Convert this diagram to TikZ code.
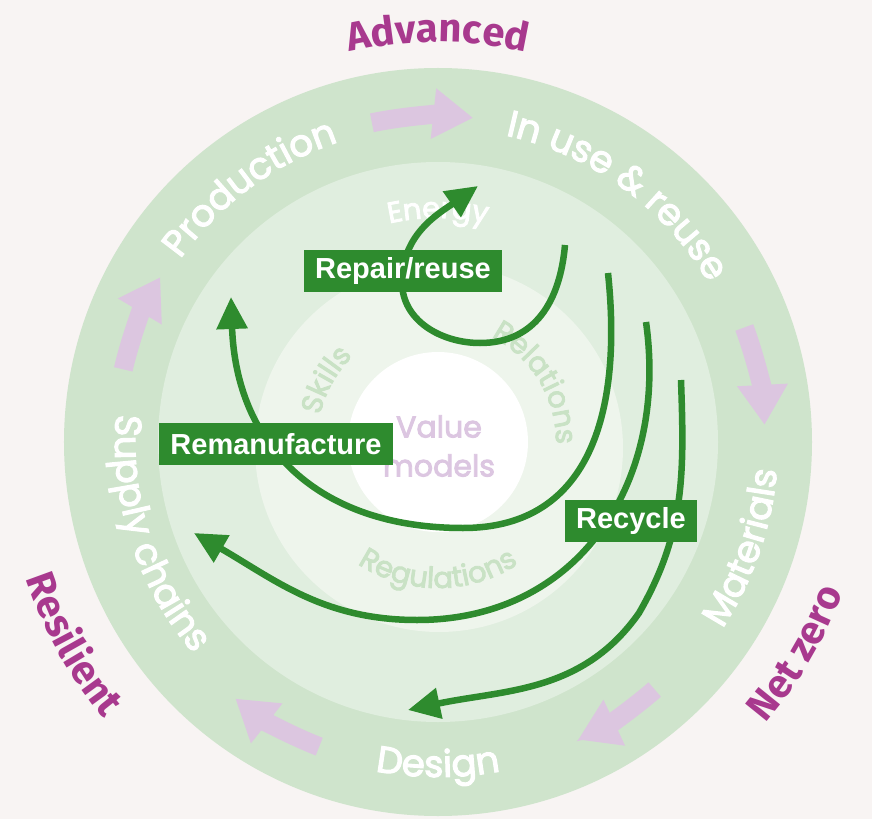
\documentclass[tikz,border=0pt]{standalone}
\usepackage{fontspec}
\setmainfont{Poppins}[FakeBold=3]
\newfontfamily\boxfont{Liberation Sans}
\newfontfamily\tagfont{Fira Sans}
\usetikzlibrary{arrows.meta,positioning,decorations.text}
\definecolor{paper}{HTML}{F8F4F3}
\definecolor{ringa}{HTML}{CFE4CC}
\definecolor{ringb}{HTML}{E0EEDF}
\definecolor{ringc}{HTML}{EEF5EC}
\definecolor{loopgreen}{HTML}{2E8B2E}
\definecolor{flowpink}{HTML}{DCC6E0}
\definecolor{tagpink}{HTML}{A8398E}
\definecolor{softgreen}{HTML}{C9E2C5}
\definecolor{valuepink}{HTML}{DCC6E1}
\newcommand\bandsize{\fontsize{37}{37}\selectfont}
\newcommand\innersize{\fontsize{29}{29}\selectfont}
\newcommand\tagsize{\tagfont\bfseries\fontsize{40}{40}\selectfont}

\begin{document}
\begin{tikzpicture}[x=1pt,y=1pt,
  loopbox/.style={fill=loopgreen,text=white,font=\boxfont\bfseries\fontsize{29}{29}\selectfont,inner xsep=11pt,inner ysep=0pt,minimum height=42pt},
  loop/.style={draw=loopgreen,line width=6.5pt,-{Triangle[length=32pt,width=30pt]}},
  flow/.style={draw=flowpink,line width=19pt,-{Triangle[length=40pt,width=48pt]}},
  bandtext/.style={decorate,decoration={text along path,text align=center,text color=white,text={|\bandsize|#1}}},
  softtext/.style={decorate,decoration={text along path,text align=center,text color=softgreen,text={|\innersize|#1}}},
  energytext/.style={decorate,decoration={text along path,text align=center,text color=white,text={|\innersize|#1}}},
  tagtext/.style={decorate,decoration={text along path,text align=center,text color=tagpink,text={|\tagsize|#1}}}]
\useasboundingbox (-438,-377) rectangle (434,442);
\fill[paper] (-438,-377) rectangle (434,442);
\fill[ringa] (0,0) circle[radius=374];
\fill[ringb] (0,0) circle[radius=280];
\fill[ringc] (1,-6) circle[radius=184];
\fill[white] (0,0) circle[radius=90];

\draw[flow] (101.7:326) arc[start angle=101.7,end angle=83.8,radius=326];
\draw[flow] (20.5:327) arc[start angle=20.5,end angle=3,radius=327];
\draw[flow] (-48.8:329) arc[start angle=-48.8,end angle=-64.8,radius=329];
\draw[flow] (-111.3:327) arc[start angle=-111.3,end angle=-128.3,radius=327];
\draw[flow] (167:323) arc[start angle=167,end angle=149.3,radius=323];

\path[bandtext=Production] (166.5:316) arc[start angle=166.5,end angle=86.5,radius=316];
\path[bandtext={In use {\&} reuse}] (94:314) arc[start angle=94,end angle=14,radius=314];
\path[bandtext=Materials] (-59:340) arc[start angle=-59,end angle=21,radius=340];
\path[bandtext=Design] (-130:335) arc[start angle=-130,end angle=-50,radius=335];
\path[bandtext={Supply chains}] (158:323) arc[start angle=158,end angle=238,radius=323];

\path[energytext=Energy] (130:224) arc[start angle=130,end angle=50,radius=224];
\path[softtext=Skills] (201:121) arc[start angle=201,end angle=101,radius=121];
\path[softtext=Relations] (91:118) arc[start angle=91,end angle=-29,radius=118];
\path[softtext=Regulations] (-160:146) arc[start angle=-160,end angle=-20,radius=146];

\path[tagtext=Advanced] (120:400) arc[start angle=120,end angle=60,radius=400];
\path[tagtext={Net zero}] (-55:432) arc[start angle=-55,end angle=-6,radius=432];
\path[tagtext=Resilient] (185:434) arc[start angle=185,end angle=233,radius=434];

\node[text=valuepink,font=\fontsize{30}{39}\selectfont,align=center] (value) at (1,-4) {Value\\models};

\coordinate (reptail) at (127,197);
\coordinate (reptip) at (40,256);
\coordinate (remtail) at (170,169);
\coordinate (remtip) at (-207,145);
\coordinate (rcatail) at (208,120);
\coordinate (rcatip) at (-244,-91);
\coordinate (rcbtail) at (243,62);
\coordinate (rcbtip) at (-30,-268);

\draw[loop] (reptail) to[out=-95,in=0,looseness=1.1] (42,99) to[out=180,in=-90] (-36,160) to[out=90,in=-145] (reptip);
\draw[loop] (remtail) to[out=-84,in=0,looseness=1.15] (25,-86) to[out=180,in=-88,looseness=1.15] (remtip);
\draw[loop] (rcatail) to[out=-82,in=0,looseness=1.1] (-21,-178) to[out=180,in=-30] (rcatip);
\draw[loop] (rcbtail) to[out=-88,in=60] (201,-171) to[out=-125,in=12] (rcbtip);

\node[loopbox] (repair) at (-35,171) {Repair/reuse};
\node[loopbox] (reman) at (-162,-2) {Remanufacture};
\node[loopbox] (recycle) at (193,-79) {Recycle};
\end{tikzpicture}
\end{document}
